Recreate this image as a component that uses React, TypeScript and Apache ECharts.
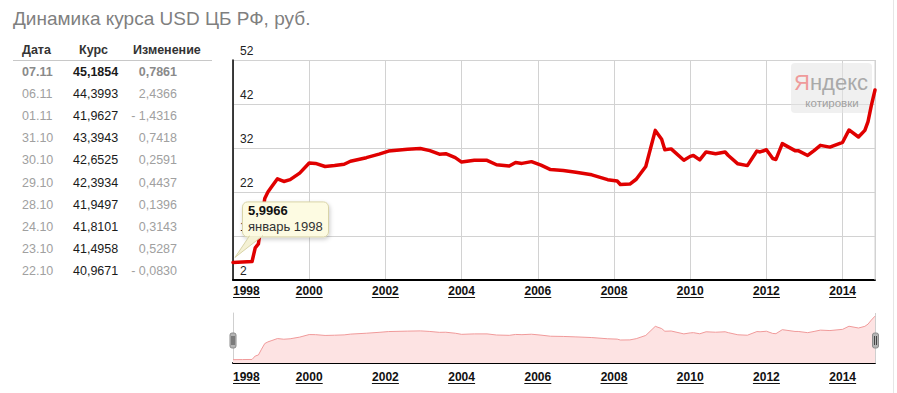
import React, { useEffect, useRef } from 'react';
import * as echarts from 'echarts';

// ---- data ----
const dates = [
  '1998-01', '1998-04', '1998-07', '1998-08', '1998-09', '1998-10', '1998-11', '1998-12',
  '1999-01', '1999-03', '1999-05', '1999-07', '1999-10',
  '2000-01', '2000-03', '2000-06', '2000-09', '2000-12',
  '2001-02', '2001-07', '2001-11',
  '2002-02', '2002-08', '2002-12',
  '2003-03', '2003-06', '2003-08', '2003-11',
  '2004-01', '2004-05', '2004-09', '2004-12',
  '2005-04', '2005-06', '2005-08', '2005-11',
  '2006-02', '2006-05', '2006-09',
  '2007-01', '2007-06', '2007-11',
  '2008-02', '2008-03', '2008-06', '2008-08', '2008-11',
  '2009-02', '2009-04', '2009-05', '2009-07', '2009-11',
  '2010-01', '2010-02', '2010-04', '2010-06', '2010-09', '2010-12',
  '2011-01', '2011-04', '2011-07', '2011-10', '2011-11',
  '2012-01', '2012-03', '2012-04', '2012-06', '2012-10', '2012-11',
  '2013-02', '2013-04', '2013-06', '2013-09',
  '2014-01', '2014-03', '2014-06', '2014-08', '2014-09', '2014-10', '2014-11-07',
];
const rates = [
  5.9966, 6.1, 6.2, 9.3, 10.2, 15.5, 20.5, 22.0,
  23.0, 25.0, 24.4, 24.8, 26.3,
  28.6, 28.5, 27.8, 28.0, 28.3,
  29.0, 29.8, 30.6,
  31.3, 31.7, 31.9,
  31.4, 30.6, 30.7, 29.8,
  28.8, 29.2, 29.2, 28.2,
  27.9, 28.7, 28.5, 28.9,
  28.1, 27.1, 26.9,
  26.5, 25.9, 24.8,
  24.5, 23.7, 23.8, 24.9, 27.8,
  36.0, 34.0, 31.6, 31.8, 29.2,
  30.1, 30.3, 29.3, 31.1, 30.7, 31.1,
  30.3, 28.4, 28.0, 31.3, 31.1,
  31.6, 29.6, 29.4, 33.0, 31.4, 31.4,
  30.3, 31.4, 32.6, 32.2,
  33.3, 36.1, 34.5, 36.0, 38.0, 41.5, 45.1854,
];
const yearTicks = [1998, 2000, 2002, 2004, 2006, 2008, 2010, 2012, 2014];
const monthNames = ['январь', 'февраль', 'март', 'апрель', 'май', 'июнь', 'июль', 'август', 'сентябрь', 'октябрь', 'ноябрь', 'декабрь'];

const tableHeaders = ['Дата', 'Курс', 'Изменение'];
const tableDates = ['07.11', '06.11', '01.11', '31.10', '30.10', '29.10', '28.10', '24.10', '23.10', '22.10'];
const tableRates = ['45,1854', '44,3993', '41,9627', '43,3943', '42,6525', '42,3934', '41,9497', '41,8101', '41,4958', '40,9671'];
const tableChanges = ['0,7861', '2,4366', '- 1,4316', '0,7418', '0,2591', '0,4437', '0,1396', '0,3143', '0,5287', '- 0,0830'];

const titleText = 'Динамика курса USD ЦБ РФ, руб.';

// ---- helpers ----
const FONT = "'Liberation Sans', Arial, sans-serif";
function toYear(d: string): number {
  const p = d.split('-').map(Number);
  return p[0] + (p[1] - 1) / 12 + (p[2] ? (p[2] - 1) / 365 : 0);
}
const seriesData = dates.map((d, i) => [toYear(d), rates[i]]);

function txt(x: number, y: number, text: string, font: string, fill: string, align = 'left', z = 10) {
  return {
    type: 'text', x, y, z,
    style: { text, font, fill, textAlign: align, align, textVerticalAlign: 'middle', verticalAlign: 'middle' },
  };
}
function ln(x1: number, y1: number, x2: number, y2: number, stroke: string, lineWidth = 1, z = 10) {
  return { type: 'line', z, shape: { x1, y1, x2, y2 }, style: { stroke, lineWidth } };
}

export default function App() {
  const ref = useRef<HTMLDivElement>(null);
  useEffect(() => {
    if (!ref.current) return;
    const chart = echarts.init(ref.current, undefined, { renderer: 'svg' });
    const xAxisCommon = {
      type: 'value',
      min: 1998,
      max: 'dataMax',
      interval: 2,
      axisTick: { show: false },
      axisLine: { show: true, lineStyle: { color: '#000', width: 2 } },
      axisLabel: {
        color: '#111', fontWeight: 'bold', fontSize: 12, fontFamily: FONT,
        alignMinLabel: 'left', showMaxLabel: false,
        formatter: (v: number) => (Number.isInteger(v) && v % 2 === 0 ? String(v) : ''),
      },
    };
    chart.setOption({
      animation: false,
      backgroundColor: '#fff',
      grid: [
        { left: 233, top: 60, width: 642, height: 220 },
        { left: 233, top: 313, width: 642, height: 50 },
      ],
      xAxis: [
        {
          ...xAxisCommon, gridIndex: 0,
          axisLabel: { ...xAxisCommon.axisLabel, margin: 5 },
          splitLine: { show: true, lineStyle: { color: '#d2d2d2', width: 1 } },
        },
        {
          ...xAxisCommon, gridIndex: 1,
          axisLabel: { ...xAxisCommon.axisLabel, margin: 8 },
          splitLine: { show: false },
        },
      ],
      yAxis: [
        {
          type: 'value', gridIndex: 0, min: 2, max: 52, interval: 10,
          axisLine: { show: true, lineStyle: { color: '#000', width: 1.5 } },
          axisTick: { show: false },
          axisLabel: {
            inside: true, margin: 7, color: '#222', fontSize: 12, fontFamily: FONT,
            verticalAlign: 'bottom', padding: [0, 0, 3, 0],
          },
          splitLine: { show: true, lineStyle: { color: '#d2d2d2', width: 1 } },
        },
        {
          type: 'value', gridIndex: 1, min: 3, max: 48,
          axisLine: { show: true, lineStyle: { color: '#cfcfcf', width: 1 } },
          axisTick: { show: false }, axisLabel: { show: false }, splitLine: { show: false },
        },
      ],
      series: [
        {
          type: 'line', xAxisIndex: 0, yAxisIndex: 0, data: seriesData,
          showSymbol: false, symbol: 'none',
          lineStyle: { color: '#e00000', width: 3.5, join: 'round', cap: 'round' },
          z: 5,
        },
        {
          type: 'line', xAxisIndex: 1, yAxisIndex: 1, data: seriesData,
          showSymbol: false, symbol: 'none',
          lineStyle: { color: '#f09a9a', width: 1 },
          areaStyle: { color: '#fde3e3', opacity: 1 },
        },
      ],
    });

    const g: any[] = [];
    // title
    g.push(txt(13, 18, titleText, `19px ${FONT}`, '#7f7f7f'));
    // table
    const hx = [22, 79, 133];
    tableHeaders.forEach((h, i) => g.push(txt(hx[i], 50, h, `bold 12.5px ${FONT}`, '#333')));
    g.push(ln(13, 60.5, 212, 60.5, '#c8c8c8', 1));
    tableDates.forEach((d, i) => {
      const y = 72 + i * 22.1;
      const bold = i === 0 ? 'bold ' : '';
      g.push(txt(22, y, d, `${bold}12.5px ${FONT}`, i === 0 ? '#8a8a8a' : '#a0a0a0'));
      g.push(txt(73, y, tableRates[i], `${bold}12.5px ${FONT}`, '#1a1a1a'));
      g.push(txt(177, y, tableChanges[i], `${bold}12.5px ${FONT}`, i === 0 ? '#8a8a8a' : '#a0a0a0', 'right'));
    });

    // x-label underlines (main and overview)
    const pMax = chart.convertToPixel({ xAxisIndex: 0, yAxisIndex: 0 }, [seriesData[seriesData.length - 1][0], 52]) as number[];
    const pMin = chart.convertToPixel({ xAxisIndex: 0, yAxisIndex: 0 }, [1998, 2]) as number[];
    yearTicks.forEach((yr, i) => {
      const px = (chart.convertToPixel({ xAxisIndex: 0, yAxisIndex: 0 }, [yr, 2]) as number[])[0];
      const x1 = i === 0 ? px : px - 13.5;
      const x2 = i === 0 ? px + 27 : px + 13.5;
      g.push(ln(x1, 297.5, x2, 297.5, '#111', 1));
      g.push(ln(x1, 383.5, x2, 383.5, '#111', 1));
    });
    // right border of main plot & overview
    g.push(ln(pMax[0], pMax[1], pMax[0], pMin[1], '#d2d2d2', 1, 1));
    g.push(ln(pMax[0] + 0.5, 313, pMax[0] + 0.5, 363, '#cfcfcf', 1, 1));
    // overview handles
    [pMin[0], pMax[0] + 0.5].forEach((hx2) => {
      g.push({ type: 'rect', z: 20, shape: { x: hx2 - 3, y: 333, width: 6, height: 15, r: 2 }, style: { fill: '#b4b4b4', stroke: '#8c8c8c', lineWidth: 1 } });
      g.push(ln(hx2 - 1, 336, hx2 - 1, 345, '#444', 1, 21));
      g.push(ln(hx2 + 1, 336, hx2 + 1, 345, '#444', 1, 21));
    });
    // page edge line
    g.push(ln(893.5, 0, 893.5, 393, '#e6e6e6', 1, 1));

    // Yandex watermark
    g.push({ type: 'rect', z: 2, shape: { x: 791, y: 63, width: 81, height: 50, r: 4 }, style: { fill: 'rgba(228,228,228,0.55)' } });
    g.push({
      type: 'text', x: 831, y: 82, z: 3,
      style: {
        text: '{a|Я}{b|ндекс}', textAlign: 'center', align: 'center', textVerticalAlign: 'middle', verticalAlign: 'middle',
        rich: {
          a: { font: `22px ${FONT}`, fill: '#ef9b9b', color: '#ef9b9b' },
          b: { font: `22px ${FONT}`, fill: '#a9a9a9', color: '#a9a9a9' },
        },
      },
    });
    g.push(txt(832, 103, 'котировки', `11.5px ${FONT}`, '#a0a0a0', 'center', 3));

    // tooltip for first point
    const p0 = chart.convertToPixel({ xAxisIndex: 0, yAxisIndex: 0 }, seriesData[0]) as number[];
    const bx = p0[0] + 9.5, by = p0[1] - 60.5;
    g.push({
      type: 'rect', z: 50, shape: { x: bx, y: by, width: 86, height: 35, r: 5 },
      style: { fill: '#fdfbe2', stroke: '#d8d3a8', lineWidth: 1, shadowBlur: 4, shadowOffsetX: 1, shadowOffsetY: 2, shadowColor: 'rgba(0,0,0,0.2)' },
    });
    g.push({
      type: 'polygon', z: 51,
      shape: { points: [[bx + 7, by + 34], [bx + 20, by + 34], [p0[0] + 2, p0[1] - 5]] },
      style: { fill: '#f4f1d4', stroke: '#d8d3a8', lineWidth: 1 },
    });
    g.push({ type: 'rect', z: 52, shape: { x: bx + 7.5, y: by + 32, width: 12, height: 2.5 }, style: { fill: '#fdfbe2' } });
    const [yy, mm] = dates[0].split('-').map(Number);
    g.push(txt(bx + 5.5, by + 9, rates[0].toFixed(4).replace('.', ','), `bold 13px ${FONT}`, '#111', 'left', 53));
    g.push(txt(bx + 5.5, by + 24.5, `${monthNames[mm - 1]} ${yy}`, `13px ${FONT}`, '#333', 'left', 53));

    chart.setOption({ graphic: g });
    return () => chart.dispose();
  }, []);
  return <div ref={ref} style={{ position: 'fixed', left: 0, top: 0, width: 897, height: 393, background: '#fff' }} />;
}
